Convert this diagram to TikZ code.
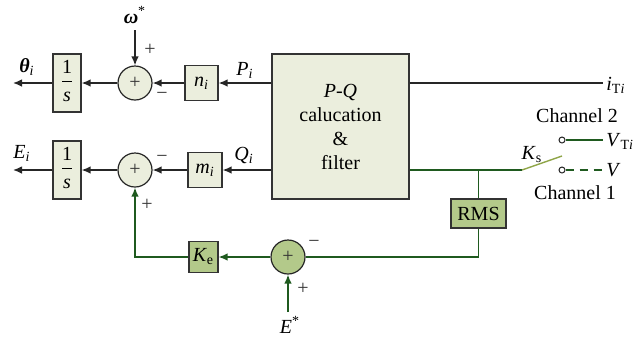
\documentclass[tikz,border=0pt]{standalone}
\usepackage{fontspec}
\setmainfont{Liberation Serif}
\usetikzlibrary{arrows.meta,positioning,calc}
\definecolor{blkFill}{HTML}{EBEEDD}
\definecolor{grnFill}{HTML}{B3C98A}
\definecolor{grnLine}{HTML}{1F5A1F}
\definecolor{swLine}{HTML}{8FA548}
\definecolor{txtGrey}{HTML}{333333}
\newcommand{\frc}[2]{\begin{tabular}{@{}c@{}}#1\\\hline\rule{0pt}{10pt}#2\end{tabular}}
\tikzset{
  blk/.style={draw=black!80, fill=blkFill, line width=0.6pt, inner sep=0pt, align=center},
  gblk/.style={blk, fill=grnFill},
  sumnode/.style={circle, draw=black!85, fill=blkFill, line width=0.6pt, minimum size=17pt, inner sep=0pt, font=\color{txtGrey}},
  gsum/.style={sumnode, fill=grnFill},
  wire/.style={line width=0.7pt, draw=black!85},
  arr/.style={wire, -{Latex[length=4.5pt,width=3.8pt]}},
  gwire/.style={line width=0.7pt, draw=grnLine},
  garr/.style={gwire, -{Latex[length=4.5pt,width=3.8pt]}},
  lbl/.style={inner sep=0pt},
  sgn/.style={inner sep=0pt, font=\color{txtGrey}},
  contact/.style={circle, draw=black!85, fill=white, line width=0.5pt, minimum size=3pt, inner sep=0pt}
}
\begin{document}
\begin{tikzpicture}[x=0.5pt,y=-0.5pt]
  \useasboundingbox (0,0) rectangle (642,339);
  % blocks
  \node[blk, minimum width=68.5pt, minimum height=72.5pt] (pq) at (340.5,126.5) {\textit{P}-\textit{Q}\\calucation\\\&\\filter};
  \node[blk, minimum width=14pt, minimum height=29pt] (intP) at (67,83) {\frc{1}{\textit{s}}};
  \node[blk, minimum width=14pt, minimum height=29pt] (intQ) at (67,170) {\frc{1}{\textit{s}}};
  \node[sumnode] (sumP) at (135,83) {+};
  \node[sumnode] (sumQ) at (135,170) {+};
  \node[blk, minimum width=16.5pt, minimum height=17.5pt] (gainN) at (201.5,83) {\textit{n}\textsubscript{\textit{i}}};
  \node[blk, minimum width=17pt, minimum height=17.5pt] (gainM) at (205,170) {\textit{m}\textsubscript{\textit{i}}};
  \node[gblk, minimum width=27.5pt, minimum height=14.5pt] (rms) at (478.5,213.5) {RMS};
  \node[gblk, minimum width=14.5pt, minimum height=15.5pt] (gainE) at (203.5,257) {\textit{K}\textsubscript{e}};
  \node[gsum] (sumE) at (288,257) {+};
  \node[contact] (ch2) at (562,140) {};
  \node[contact] (ch1) at (562,170) {};
  % free ends
  \coordinate (thetaOut) at (13,83);
  \coordinate (eOut) at (13,170);
  \coordinate (omegaIn) at (135,30);
  \coordinate (eStarIn) at (288,312);
  \coordinate (iOut) at (603,83);
  \coordinate (pivot) at (522,170);
  \coordinate (swTip) at (562,156);
  \coordinate (tap) at (478.5,170);
  \coordinate (loopR) at (478.5,257);
  \coordinate (loopL) at (135,257);
  \coordinate (vtEnd) at (603,140);
  \coordinate (vEnd) at (603,170);
  % black signal paths
  \draw[arr] (pq.west |- gainN) -- (gainN);
  \draw[arr] (gainN) -- (sumP);
  \draw[arr] (sumP) -- (intP);
  \draw[arr] (intP) -- (thetaOut);
  \draw[arr] (omegaIn) -- (sumP);
  \draw[arr] (pq.west |- gainM) -- (gainM);
  \draw[arr] (gainM) -- (sumQ);
  \draw[arr] (sumQ) -- (intQ);
  \draw[arr] (intQ) -- (eOut);
  \draw[wire] (pq.east |- iOut) -- (iOut);
  % green voltage loop
  \draw[gwire] (pq.east |- pivot) -- (pivot);
  \draw[gwire] (tap) -- (rms);
  \draw[gwire] (rms) -- (loopR) -- (sumE);
  \draw[garr] (sumE) -- (gainE);
  \draw[garr] (gainE) -- (loopL) -- (sumQ);
  \draw[garr] (eStarIn) -- (sumE);
  \draw[line width=0.7pt, draw=swLine] (pivot) -- (swTip);
  \draw[gwire] (ch2) -- (vtEnd);
  \draw[gwire, dash pattern=on 4pt off 3pt] (ch1) -- (vEnd);
  % labels
  \node[lbl] (thetaLbl) at (27,67) {\textbf{\textit{θ}}\textsubscript{\textit{i}}};
  \node[lbl] (eLbl) at (22,153) {\textit{E}\textsubscript{\textit{i}}};
  \node[lbl] (pLbl) at (245,70) {\textit{P}\textsubscript{\textit{i}}};
  \node[lbl] (qLbl) at (244,155) {\textit{Q}\textsubscript{\textit{i}}};
  \node[lbl] (omegaLbl) at (135,15) {\textbf{\textit{ω}}\textsuperscript{*}};
  \node[lbl, anchor=west] (iLbl) at (606,85) {\textit{i}\textsubscript{T\textit{i}}};
  \node[lbl, anchor=west] (vtLbl) at (606,141) {\textit{V}\textsubscript{T\textit{i}}};
  \node[lbl, anchor=west] (vLbl) at (606,170) {\textit{V}};
  \node[lbl] (ch2Lbl) at (577,116) {Channel 2};
  \node[lbl] (ch1Lbl) at (575,193) {Channel 1};
  \node[lbl] (ksLbl) at (532,155) {\textit{K}\textsubscript{s}};
  \node[lbl] (eStarLbl) at (290,325) {\textit{E}\textsuperscript{*}};
  % signs
  \node[sgn] at (150,50) {+};
  \node[sgn] at (162,96) {−};
  \node[sgn] at (162,159) {−};
  \node[sgn] at (147,205) {+};
  \node[sgn] at (314,244) {−};
  \node[sgn] at (303,289) {+};
\end{tikzpicture}
\end{document}
